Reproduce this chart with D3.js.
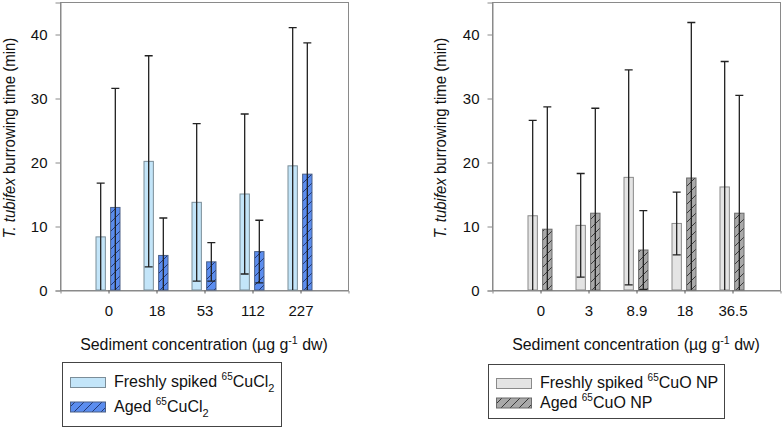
<!DOCTYPE html>
<html>
<head>
<meta charset="utf-8">
<script src="https://cdn.jsdelivr.net/npm/d3@7"></script>
<style>
  body { margin: 0; background: #fff; }
  svg text { font-family: "Liberation Sans", Arial, sans-serif; fill: #111; }
</style>
</head>
<body>
<div id="chart"></div>
<script>
// burrowing time, mean and SD
const cuclConc = ["0", "18", "53", "112", "227"];
const cuclFreshMean = [8.3, 20.1, 13.7, 15.0, 19.4];
const cuclFreshSd = [8.4, 16.5, 12.3, 12.5, 21.6];
const cuclAgedMean = [12.9, 5.4, 4.4, 6.0, 18.1];
const cuclAgedSd = [18.6, 5.85, 3.0, 4.9, 20.5];

const cuoConc = ["0", "3", "8.9", "18", "36.5"];
const cuoFreshMean = [11.6, 10.1, 17.6, 10.4, 16.1];
const cuoFreshSd = [14.9, 8.1, 16.8, 4.9, 19.6];
const cuoAgedMean = [9.5, 12.0, 6.25, 17.5, 12.0];
const cuoAgedSd = [19.1, 16.4, 6.15, 24.3, 18.4];

const yTicks = [0, 10, 20, 30, 40];

const svg = d3.select("#chart")
  .append("svg")
    .attr("width", 782)
    .attr("height", 429);

const defs = svg.append("defs");
function hatch(id, bg, line) {
  const p = defs.append("pattern")
    .attr("id", id)
    .attr("patternUnits", "userSpaceOnUse")
    .attr("width", 9)
    .attr("height", 9);
  p.append("rect").attr("width", 9).attr("height", 9).attr("fill", bg);
  p.append("path")
    .attr("d", "M-2,11 L11,-2 M-2,2 L2,-2 M7,11 L11,7")
    .attr("stroke", line)
    .attr("stroke-width", 0.9);
}
hatch("hatchBlue", "#5b8def", "#1c2f66");
hatch("hatchGray", "#a9a9a9", "#2a2a2a");

function panel(o) {
  const y = d3.scaleLinear().domain([0, 45]).range([290, 2]);
  const x = d3.scalePoint()
    .domain(o.conc)
    .range([o.left, o.left + 288])
    .padding(1);
  const xs = d3.scaleBand()
    .domain(["fresh", "aged"])
    .range([-12, 12])
    .paddingInner(0.36);

  const g = svg.append("g");

  // frame
  g.append("rect")
    .attr("x", o.left + 0.5).attr("y", y(45) + 0.5)
    .attr("width", 288).attr("height", y(0) - y(45))
    .attr("fill", "none")
    .attr("stroke", "#8a8a8a");

  const yAxis = g.append("g")
    .attr("transform", `translate(${o.left + 0.5},0.5)`)
    .call(d3.axisLeft(y).tickValues(yTicks).tickSize(5).tickPadding(8));
  yAxis.select(".domain").attr("stroke", "#8a8a8a");
  yAxis.selectAll(".tick line").attr("stroke", "#8a8a8a");
  yAxis.selectAll("text").style("font-size", "15px").attr("fill", "#111");

  const xAxis = g.append("g")
    .attr("transform", `translate(0.5,${y(0) + 0.5})`)
    .call(d3.axisBottom(x).tickSize(3).tickPadding(12));
  xAxis.select(".domain").attr("stroke", "#8a8a8a");
  xAxis.selectAll(".tick line").attr("stroke", "#555");
  xAxis.selectAll("text").style("font-size", "15px").attr("fill", "#111");

  const series = [
    {key: "fresh", mean: o.freshMean, sd: o.freshSd, fill: o.freshFill, stroke: o.freshStroke},
    {key: "aged", mean: o.agedMean, sd: o.agedSd, fill: o.agedFill, stroke: o.agedStroke}
  ];

  series.forEach(s => {
    const rows = o.conc.map((c, i) => ({c, m: s.mean[i], sd: s.sd[i]}));
    const cx = d => x(d.c) + xs(s.key) + xs.bandwidth() / 2;

    g.selectAll(null)
      .data(rows)
      .join("rect")
        .attr("x", d => x(d.c) + xs(s.key))
        .attr("y", d => y(d.m))
        .attr("width", xs.bandwidth())
        .attr("height", d => y(0) - y(d.m))
        .attr("fill", s.fill)
        .attr("stroke", s.stroke)
        .attr("stroke-width", 1);

    // error bars
    g.selectAll(null)
      .data(rows)
      .join("path")
        .attr("d", d => {
          const hi = y(d.m + d.sd), lo = y(Math.max(0, d.m - d.sd)), c = cx(d);
          let p = `M${c},${lo}L${c},${hi}M${c - 4},${hi}L${c + 4},${hi}`;
          if (d.m - d.sd > 0) p += `M${c - 4},${lo}L${c + 4},${lo}`;
          return p;
        })
        .attr("fill", "none")
        .attr("stroke", "#222")
        .attr("stroke-width", 1.3);
  });

  // y title (font in the figure is a bit narrow, so squeeze it)
  const yt = g.append("text")
    .attr("transform", `translate(${o.yTitleX},138) rotate(-90) scale(0.88,1)`)
    .attr("text-anchor", "middle")
    .style("font-size", "17px");
  yt.append("tspan").style("font-style", "italic").text("T. tubifex");
  yt.append("tspan").text(" burrowing time (min)");

  // x title
  const xt = g.append("text")
    .attr("transform", `translate(${o.left + 144},350) scale(0.965,1)`)
    .attr("text-anchor", "middle")
    .style("font-size", "16.5px");
  xt.append("tspan").text("Sediment concentration (\u00b5g g");
  xt.append("tspan").attr("dy", -6).style("font-size", "11px").text("-1");
  xt.append("tspan").attr("dy", 6).text(" dw)");

  // legend
  const L = o.legend;
  g.append("rect")
    .attr("x", L.x + 0.5).attr("y", L.y + 0.5)
    .attr("width", L.w).attr("height", L.h)
    .attr("fill", "#fff")
    .attr("stroke", "#444");

  series.forEach((s, i) => {
    const ry = L.y + L.rowTop + i * L.rowGap;
    g.append("rect")
      .attr("x", L.x + 8.5).attr("y", ry + 0.5)
      .attr("width", 35).attr("height", 10)
      .attr("fill", s.fill)
      .attr("stroke", s.stroke);
    const t = g.append("text")
      .attr("x", L.x + 52)
      .attr("y", ry + 10)
      .style("font-size", "16px");
    t.append("tspan").text(o.labels[i][0]);
    t.append("tspan").attr("dy", -7).style("font-size", "10px").text("65");
    t.append("tspan").attr("dy", 7).text(o.labels[i][1]);
    if (o.labels[i][2]) {
      t.append("tspan").attr("dy", 5).style("font-size", "11px").text(o.labels[i][2]);
    }
  });
}

panel({
  left: 60,
  conc: cuclConc,
  freshMean: cuclFreshMean, freshSd: cuclFreshSd,
  agedMean: cuclAgedMean, agedSd: cuclAgedSd,
  freshFill: "#c3e5f9", freshStroke: "#7b8d98",
  agedFill: "url(#hatchBlue)", agedStroke: "#4a5f85",
  yTitleX: 15,
  labels: [["Freshly spiked ", "CuCl", "2"], ["Aged ", "CuCl", "2"]],
  legend: {x: 62, y: 362, w: 219, h: 64, rowTop: 15, rowGap: 24.5}
});

panel({
  left: 492,
  conc: cuoConc,
  freshMean: cuoFreshMean, freshSd: cuoFreshSd,
  agedMean: cuoAgedMean, agedSd: cuoAgedSd,
  freshFill: "#e4e4e4", freshStroke: "#8a8a8a",
  agedFill: "url(#hatchGray)", agedStroke: "#6a6a6a",
  yTitleX: 446,
  labels: [["Freshly spiked ", "CuO NP"], ["Aged ", "CuO NP"]],
  legend: {x: 488, y: 364, w: 236, h: 54, rowTop: 14, rowGap: 19.5}
});
</script>
</body>
</html>
